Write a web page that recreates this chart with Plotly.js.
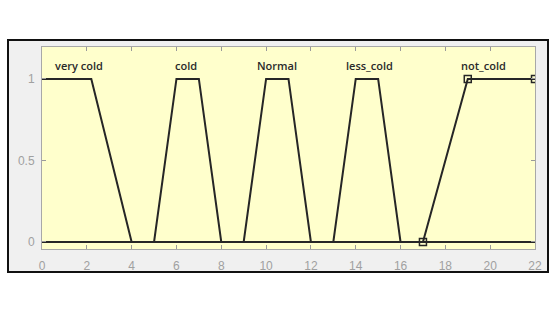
<!DOCTYPE html>
<html><head><meta charset="utf-8">
<script src="https://cdn.plot.ly/plotly-3.0.1.min.js"></script>
<style>html,body{margin:0;padding:0;background:#fff}#c{width:558px;height:314px}</style>
</head><body><div id="c"></div>
<script>
// Membership function names and vertices (x in input units, y = membership)
const mfNames = ['very cold', 'cold', 'Normal', 'less_cold', 'not_cold'];
const veryColdX = [0, 2.2, 4, 22];
const veryColdY = [1, 1, 0, 0];
const coldX = [0, 5, 6, 7, 8, 22];
const coldY = [0, 0, 1, 1, 0, 0];
const normalX = [0, 9, 10, 11, 12, 22];
const normalY = [0, 0, 1, 1, 0, 0];
const lessColdX = [0, 13, 14, 15, 16, 22];
const lessColdY = [0, 0, 1, 1, 0, 0];
const notColdX = [0, 17, 19, 22];
const notColdY = [0, 0, 1, 1];
// selected-MF marker points (not_cold parameters)
const markerX = [17, 19, 22];
const markerY = [0, 1, 1];
// label positions
const labelX = [1.65, 6.43, 10.49, 14.62, 19.69];
const labelY = [1.085, 1.085, 1.085, 1.085, 1.085];
const xTicks = [0, 2, 4, 6, 8, 10, 12, 14, 16, 18, 20, 22];
const yTicks = [0, 0.5, 1];

const lineStyle = {color: '#262626', width: 2};
const series = [[veryColdX, veryColdY], [coldX, coldY], [normalX, normalY], [lessColdX, lessColdY], [notColdX, notColdY]];
const traces = series.map((s, i) => ({
  x: s[0], y: s[1], mode: 'lines', line: lineStyle, name: mfNames[i], hoverinfo: 'skip'
}));
traces.push({
  x: markerX, y: markerY, mode: 'markers',
  marker: {symbol: 'square-open', size: 7, color: '#262626', line: {width: 1.5, color: '#262626'}},
  hoverinfo: 'skip'
});

const pw = 493, ph = 202;
const layout = {
  width: 558, height: 314,
  margin: {l: 42, r: 23, t: 47, b: 65},
  paper_bgcolor: '#ffffff',
  plot_bgcolor: 'rgba(0,0,0,0)',
  showlegend: false,
  xaxis: {
    range: [0, 22], tickvals: xTicks, ticktext: xTicks.map(String),
    ticks: 'inside', ticklen: 4, tickcolor: '#9a9a9a', tickwidth: 1,
    showline: true, linecolor: '#a8a8a8', linewidth: 1, mirror: 'ticks',
    showgrid: false, zeroline: false,
    tickfont: {family: 'Liberation Sans, Arial, sans-serif', size: 12, color: '#a0a0a0'},
    ticklabelstandoff: 6
  },
  yaxis: {
    range: [-0.043, 1.196], tickvals: yTicks, ticktext: ['0', '0.5', '1'],
    ticks: 'inside', ticklen: 4, tickcolor: '#9a9a9a', tickwidth: 1,
    showline: true, linecolor: '#a8a8a8', linewidth: 1, mirror: 'ticks',
    showgrid: false, zeroline: false,
    tickfont: {family: 'Liberation Sans, Arial, sans-serif', size: 12, color: '#a0a0a0'},
    ticklabelstandoff: 4
  },
  shapes: [
    {type: 'rect', xref: 'paper', yref: 'paper', layer: 'below',
     x0: (8 - 42) / pw, x1: (548 - 42) / pw, y0: (249 - 272) / ph, y1: (249 - 40) / ph,
     fillcolor: '#f0f0f0', line: {color: '#111111', width: 2}},
    {type: 'rect', xref: 'paper', yref: 'paper', layer: 'below',
     x0: 0, x1: 1, y0: 0, y1: 1, fillcolor: '#ffffcc', line: {width: 0}}
  ],
  annotations: mfNames.map((n, i) => ({
    x: labelX[i], y: labelY[i], xref: 'x', yref: 'y', text: n, showarrow: false,
    font: {family: 'Open Sans, sans-serif', size: 11, color: '#2a2a2a', weight: 600},
    xanchor: 'center', yanchor: 'middle'
  }))
};
Plotly.newPlot('c', traces, layout, {displayModeBar: false, staticPlot: true});
</script></body></html>
